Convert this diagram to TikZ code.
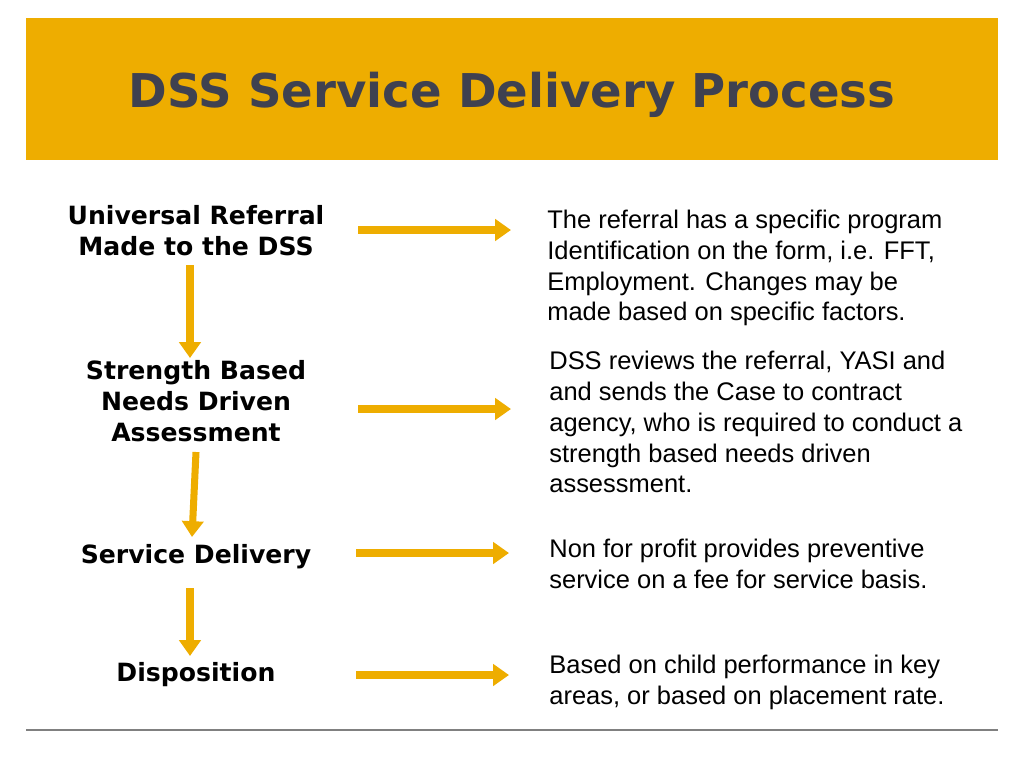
\documentclass[tikz,border=0pt]{standalone}
\usepackage{fontspec}
\setmainfont{Liberation Sans}
\newfontfamily\boldface{DejaVu Sans}
\usetikzlibrary{arrows.meta}
\definecolor{gold}{HTML}{EEAD00}
\definecolor{titlegray}{HTML}{3F4150}
\tikzset{
  stage/.style={font=\boldface\bfseries\fontsize{14.3}{17.6}\selectfont, align=center, inner sep=0pt},
  note/.style={font=\fontsize{14.5}{17.6}\selectfont, align=left, anchor=west, inner sep=0pt},
  flow/.style={draw=gold, line width=4pt, -{Triangle[length=9pt,width=12pt]}}
}
\begin{document}
\begin{tikzpicture}[x=0.02cm,y=-0.02cm]
  \useasboundingbox (0,0) rectangle (1024,768);
  % header band
  \fill [gold] (26,18) rectangle (998,160);
  \node [font=\boldface\bfseries\fontsize{26.5}{30}\selectfont, text=titlegray] (title) at (512,95) {DSS Service Delivery Process};
  \draw [gray, line width=0.8pt] (26,730) -- (998,730);
  % steps
  \node [stage] (referral) at (196,231) {Universal Referral\\Made to the DSS};
  \node [stage] (assess) at (196,401) {Strength Based\\Needs Driven\\Assessment};
  \node [stage] (deliver) at (196,557) {Service Delivery};
  \node [stage] (dispo) at (196,675) {Disposition};
  % notes
  \node [note] (n1) at (547,268) {The referral has a specific program\\Identification on the form, i.e. FFT,\\Employment. Changes may be\\made based on specific factors.};
  \node [note] (n2) at (549,422) {DSS reviews the referral, YASI and\\and sends the Case to contract\\agency, who is required to conduct a\\strength based needs driven\\assessment.};
  \node [note] (n3) at (549,564) {Non for profit provides preventive\\service on a fee for service basis.};
  \node [note] (n4) at (549,682) {Based on child performance in key\\areas, or based on placement rate.};
  % arrow ends
  \coordinate (a1) at (358,230); \coordinate (b1) at (511,230);
  \coordinate (a2) at (358,409); \coordinate (b2) at (511,409);
  \coordinate (a3) at (356,553); \coordinate (b3) at (509,553);
  \coordinate (a4) at (356,675); \coordinate (b4) at (509,675);
  \coordinate (d1) at (190,265); \coordinate (e1) at (190,358);
  \coordinate (d2) at (196,452); \coordinate (e2) at (192,537);
  \coordinate (d3) at (190,588); \coordinate (e3) at (190,656);
  \foreach \i in {1,...,4} \draw [flow] (a\i) -- (b\i);
  \foreach \i in {1,...,3} \draw [flow] (d\i) -- (e\i);
\end{tikzpicture}
\end{document}
